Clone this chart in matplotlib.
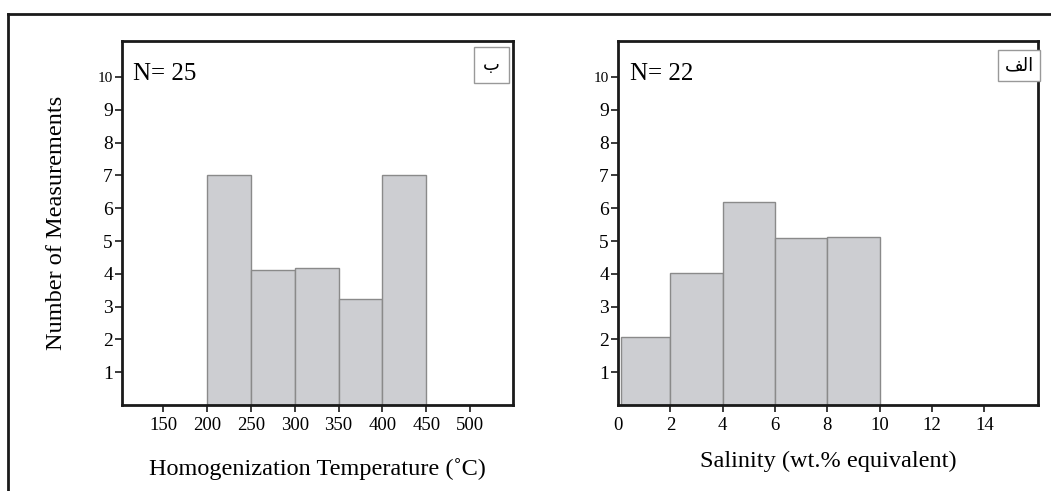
import matplotlib.pyplot as plt
from matplotlib.lines import Line2D

# Homogenization temperature histogram (left panel)
temp_edges = [200, 250, 300, 350, 400, 450]
temp_counts = [7.0, 4.13, 4.17, 3.22, 7.0]
temp_ticks = [150, 200, 250, 300, 350, 400, 450, 500]

# Salinity histogram (right panel)
sal_edges = [0.1, 2, 4, 6, 8, 10]
sal_counts = [2.08, 4.03, 6.18, 5.08, 5.12]
sal_ticks = [0, 2, 4, 6, 8, 10, 12, 14]

y_ticks = [1, 2, 3, 4, 5, 6, 7, 8, 9, 10]

SERIF = "Liberation Serif"
BAR_FILL = "#cdced2"
BAR_EDGE = "#8a8a8a"

W, H = 1051, 491
fig = plt.figure(figsize=(W / 100, H / 100), dpi=100)


def px_axes(left, top, right, bottom):
    return fig.add_axes([left / W, 1 - bottom / H, (right - left) / W, (bottom - top) / H])


def draw_hist(ax, edges, counts, xlim, xticks, n_text, tag, tag_x, tag_pad):
    widths = [b - a for a, b in zip(edges[:-1], edges[1:])]
    ax.bar(edges[:-1], counts, width=widths, align="edge",
           color=BAR_FILL, edgecolor=BAR_EDGE, linewidth=1.0, zorder=2)
    ax.set_xlim(*xlim)
    ax.set_ylim(0, 11.1)
    ax.set_yticks(y_ticks)
    ax.set_xticks(xticks)
    for s in ax.spines.values():
        s.set_linewidth(2.0)
        s.set_color("#1a1a1a")
    ax.tick_params(axis="both", direction="out", length=5, width=1.2, color="#1a1a1a")
    ax.tick_params(axis="x", labelsize=13.5, pad=4)
    ax.tick_params(axis="y", labelsize=14, pad=1.5)
    for lab in ax.get_xticklabels() + ax.get_yticklabels():
        lab.set_fontfamily(SERIF)
    # the "10" label is printed smaller in the original
    ax.get_yticklabels()[-1].set_fontsize(11)
    ax.text(0.028, 0.91, n_text, transform=ax.transAxes, fontsize=18,
            family=SERIF, ha="left", va="center")
    ax.text(tag_x, 0.933, tag, transform=ax.transAxes, fontsize=13,
            family="DejaVu Sans", ha="center", va="center",
            bbox=dict(boxstyle="square,pad=" + str(tag_pad), fc="white", ec="#999999", lw=1.0))


ax1 = px_axes(122, 41, 513, 405)
draw_hist(ax1, temp_edges, temp_counts, (103, 549), temp_ticks, "N= 25", "\uFE8F", 0.945, 0.5)
ax1.set_xlabel("Homogenization Temperature (\u02DAC)", fontsize=17.5, family=SERIF, labelpad=17)
ax1.set_ylabel("Number of Measurements", fontsize=17.5, family=SERIF, labelpad=22)

ax2 = px_axes(618, 41, 1038, 405)
# Arabic "الف" in visual order with presentation forms (no shaping in matplotlib)
draw_hist(ax2, sal_edges, sal_counts, (0, 16.05), sal_ticks, "N= 22", "\uFED2\uFEDF\uFE8D", 0.955, 0.35)
ax2.xaxis.get_major_ticks()[0].tick1line.set_visible(False)
ax2.set_xlabel("Salinity (wt.% equivalent)", fontsize=17.5, family=SERIF, labelpad=12)

# outer frame: only top and left edges are visible
fig.add_artist(Line2D([8 / W, 1], [1 - 14 / H, 1 - 14 / H], transform=fig.transFigure,
                      color="#1a1a1a", lw=2.0))
fig.add_artist(Line2D([8 / W, 8 / W], [1 - 14 / H, 0], transform=fig.transFigure,
                      color="#1a1a1a", lw=2.0))

fig.savefig("out.png", dpi=100)
